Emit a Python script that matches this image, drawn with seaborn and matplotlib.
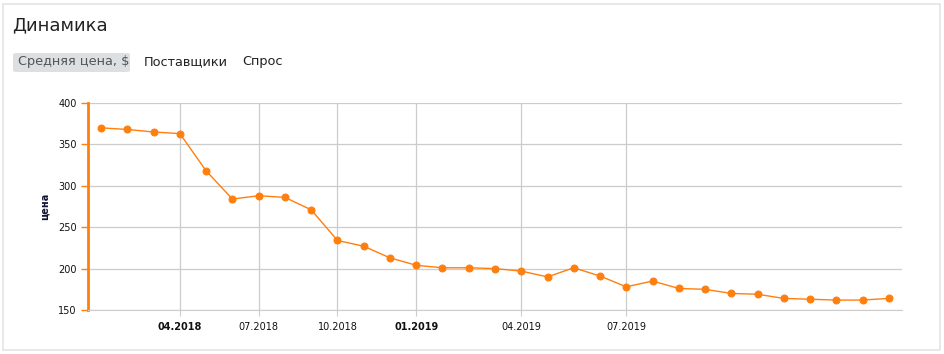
import pandas as pd
import numpy as np
import matplotlib
matplotlib.use("Agg")
import matplotlib.pyplot as plt
import seaborn as sns
from matplotlib.patches import FancyBboxPatch, Rectangle

# data (monthly points)
price = [370, 368, 365, 363, 318, 284, 288, 286, 271, 234, 227, 213, 204, 201, 201,
         200, 197, 190, 201, 191, 178, 185, 176, 175, 170, 169, 164, 163, 162, 162, 164]
tick_pos = [3, 6, 9, 12, 16, 20]
tick_labels = ["04.2018", "07.2018", "10.2018", "01.2019", "04.2019", "07.2019"]
bold_labels = ["04.2018", "01.2019"]
y_ticks = [150, 200, 250, 300, 350, 400]

df = pd.DataFrame({"idx": np.arange(len(price)), "price": price})

sns.set_style("white")
plt.rcParams['font.family'] = ['DejaVu Sans']

orange = "#ff7f0e"
grid = "#cccccc"

fig = plt.figure(figsize=(9.45, 3.54), dpi=100)

# card border
fig.patches.append(Rectangle((3 / 945, 4 / 354), 937 / 945, 346 / 354, transform=fig.transFigure,
                             fill=False, edgecolor="#e4e4e4", linewidth=1.2))

fig.text(12 / 945, 1 - 25 / 354, "Динамика", fontsize=13, color="#222222", va="center", ha="left")
fig.patches.append(FancyBboxPatch((13 / 945, 1 - 72 / 354), 117 / 945, 19 / 354,
                                  boxstyle="round,pad=0,rounding_size=0.004", transform=fig.transFigure,
                                  facecolor="#dde0e3", edgecolor="none"))
fig.text(18 / 945, 1 - 62 / 354, "Средняя цена, $", fontsize=9.3, color="#555555", va="center", ha="left")
fig.text(144 / 945, 1 - 62 / 354, "Поставщики", fontsize=9.3, color="#222222", va="center", ha="left")
fig.text(242 / 945, 1 - 62 / 354, "Спрос", fontsize=9.3, color="#222222", va="center", ha="left")

ax = fig.add_axes([88 / 945, 1 - 310 / 354, 814 / 945, 207 / 354])
sns.lineplot(data=df, x="idx", y="price", ax=ax, color=orange, linewidth=1.0,
             marker="o", markersize=5, markeredgecolor=orange)

ax.set_xlim(-0.5, 30.5)
ax.set_ylim(150, 400)
ax.set_yticks(y_ticks)
ax.set_xticks(tick_pos)
ax.set_xticklabels(tick_labels)
for lab in ax.get_xticklabels():
    if lab.get_text() in bold_labels:
        lab.set_fontweight("bold")
ax.tick_params(axis="x", bottom=True, labelsize=7, length=4, color=grid, pad=5, labelcolor="#111111")
ax.tick_params(axis="y", left=True, labelsize=7, length=5, color=orange, width=1, pad=3,
               labelcolor="#111111", direction="out")
ax.grid(True, color=grid, linewidth=0.9)
ax.set_axisbelow(True)

for s in ["top", "right"]:
    ax.spines[s].set_visible(False)
ax.spines["bottom"].set_color(grid)
ax.spines["left"].set_color(orange)
ax.spines["left"].set_linewidth(2)

ax.set_xlabel("")
ax.set_ylabel("цена", fontsize=7, fontweight="bold", color="#111133", labelpad=6)

fig.savefig("out.png", dpi=100)
